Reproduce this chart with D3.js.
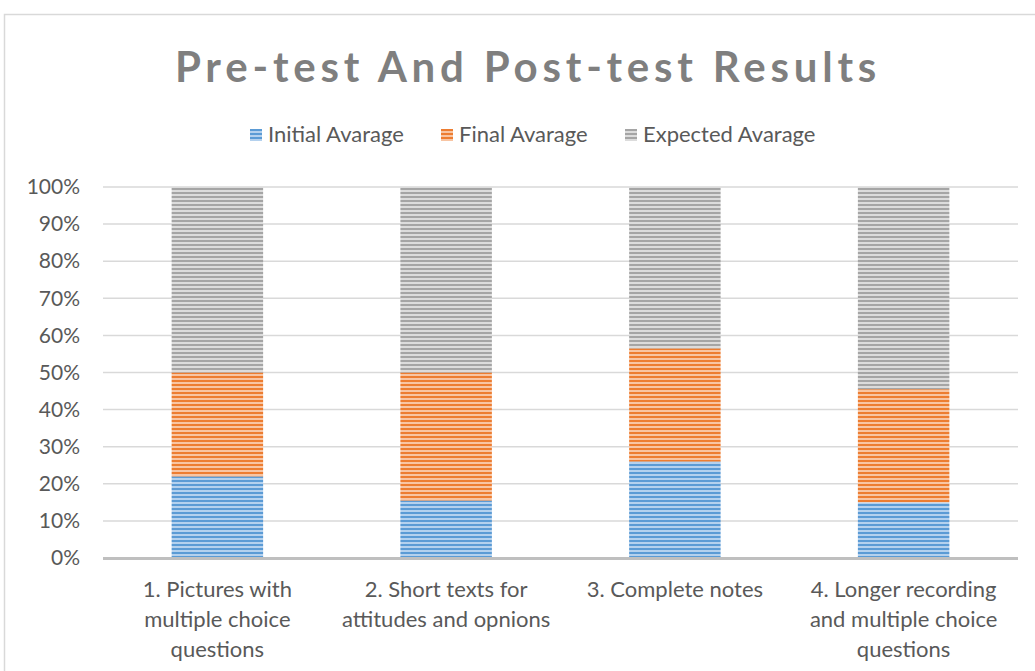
<!DOCTYPE html>
<html>
<head>
<meta charset="utf-8">
<script src="https://cdn.jsdelivr.net/npm/d3@7"></script>
<style>
  body { margin: 0; background: #fff; }
  svg { display: block; font-family: Lato, "Open Sans", sans-serif; }
</style>
</head>
<body>
<svg id="chart"></svg>
<script>
// data
const categories = [
    ["1. Pictures with", "multiple choice", "questions"],
    ["2. Short texts for", "attitudes and opnions"],
    ["3. Complete notes"],
    ["4. Longer recording", "and multiple choice", "questions"]
];
const seriesNames = ["Initial Avarage", "Final Avarage", "Expected Avarage"];
const initialAvg = [22, 15.5, 26, 15];
const finalAvg = [28, 34.5, 30.5, 30.5];
const expectedAvg = [50, 50, 43.5, 54.5];
const yTicks = [0, 10, 20, 30, 40, 50, 60, 70, 80, 90, 100];

const width = 1035, height = 671;
const margin = {left: 103, right: 17, top: 187, bottom: 113};

const svg = d3.select("#chart").attr("width", width).attr("height", height);

// 패턴 (가로 줄무늬)
const colors = [
    {dark: "#5b9bd5", light: "#b4d1ee"},
    {dark: "#ed7d31", light: "#f8c5a3"},
    {dark: "#a5a5a5", light: "#dcdcdc"}
];
const defs = svg.append("defs");
colors.forEach((c, i) => {
    const p = defs.append("pattern")
        .attr("id", `stripe-${i}`)
        .attr("patternUnits", "userSpaceOnUse")
        .attr("width", 8).attr("height", 4);
    p.append("rect").attr("width", 8).attr("height", 4).attr("fill", c.light);
    p.append("rect").attr("y", 0).attr("width", 8).attr("height", 2).attr("fill", c.dark);
});

// chart border
svg.append("path")
    .attr("d", `M4.5,${height} V14.5 H${width}`)
    .attr("fill", "none")
    .attr("stroke", "#d9d9d9")
    .attr("stroke-width", 1.5);

// title
svg.append("text")
    .attr("x", 528).attr("y", 82)
    .attr("text-anchor", "middle")
    .attr("font-size", 42)
    .attr("font-weight", "bold")
    .attr("letter-spacing", 4.8)
    .attr("fill", "#7f7f7f")
    .text("Pre-test And Post-test Results");

// scales
const xScale = d3.scaleBand()
    .domain(categories.map((d, i) => i))
    .range([margin.left, width - margin.right])
    .paddingInner(0.6).paddingOuter(0.3);
const yScale = d3.scaleLinear().domain([0, 100]).range([height - margin.bottom, margin.top]);

// gridlines
svg.append("g").selectAll("line")
    .data(yTicks.slice(1))
    .join("line")
    .attr("x1", margin.left).attr("x2", width - margin.right)
    .attr("y1", d => yScale(d)).attr("y2", d => yScale(d))
    .attr("stroke", "#d9d9d9").attr("stroke-width", 1.5);

// y axis labels
const yAxis = svg.append("g")
    .attr("transform", `translate(${margin.left},0)`)
    .call(d3.axisLeft(yScale).tickValues(yTicks).tickFormat(d => d + "%").tickSize(0).tickPadding(23));
yAxis.select(".domain").remove();
yAxis.selectAll("text")
    .attr("font-size", 21)
    .attr("font-family", "Lato, sans-serif")
    .attr("fill", "#595959");

// stacked bars
const table = categories.map((c, i) => ({idx: i, initial: initialAvg[i], final: finalAvg[i], expected: expectedAvg[i]}));
const stack = d3.stack().keys(["initial", "final", "expected"])(table);

svg.append("g").selectAll("g.series")
    .data(stack)
    .join("g")
    .attr("class", "series")
    .attr("fill", (d, i) => `url(#stripe-${i})`)
    .selectAll("rect")
    .data(d => d)
    .join("rect")
    .attr("x", d => xScale(d.data.idx))
    .attr("width", xScale.bandwidth())
    .attr("y", d => yScale(d[1]))
    .attr("height", d => yScale(d[0]) - yScale(d[1]));

// x axis line
svg.append("line")
    .attr("x1", margin.left).attr("x2", width - margin.right)
    .attr("y1", yScale(0) + 0.5).attr("y2", yScale(0) + 0.5)
    .attr("stroke", "#bfbfbf").attr("stroke-width", 3);

// category labels
const catLabels = svg.append("g").selectAll("text")
    .data(categories)
    .join("text")
    .attr("text-anchor", "middle")
    .attr("font-size", 22)
    .attr("fill", "#595959")
    .attr("transform", (d, i) => `translate(${xScale(i) + xScale.bandwidth() / 2}, ${yScale(0) + 39})`);
catLabels.selectAll("tspan")
    .data(d => d)
    .join("tspan")
    .attr("x", 0)
    .attr("y", (d, j) => j * 30)
    .text(d => d);

// legend
const legendX = [250, 441, 625];
const legend = svg.append("g").selectAll("g")
    .data(seriesNames)
    .join("g")
    .attr("transform", (d, i) => `translate(${legendX[i]}, 129)`);
legend.append("rect")
    .attr("width", 12).attr("height", 12)
    .attr("fill", (d, i) => `url(#stripe-${i})`);
legend.append("text")
    .attr("x", 18).attr("y", 13)
    .attr("font-size", 22)
    .attr("fill", "#595959")
    .text(d => d);
</script>
</body>
</html>
